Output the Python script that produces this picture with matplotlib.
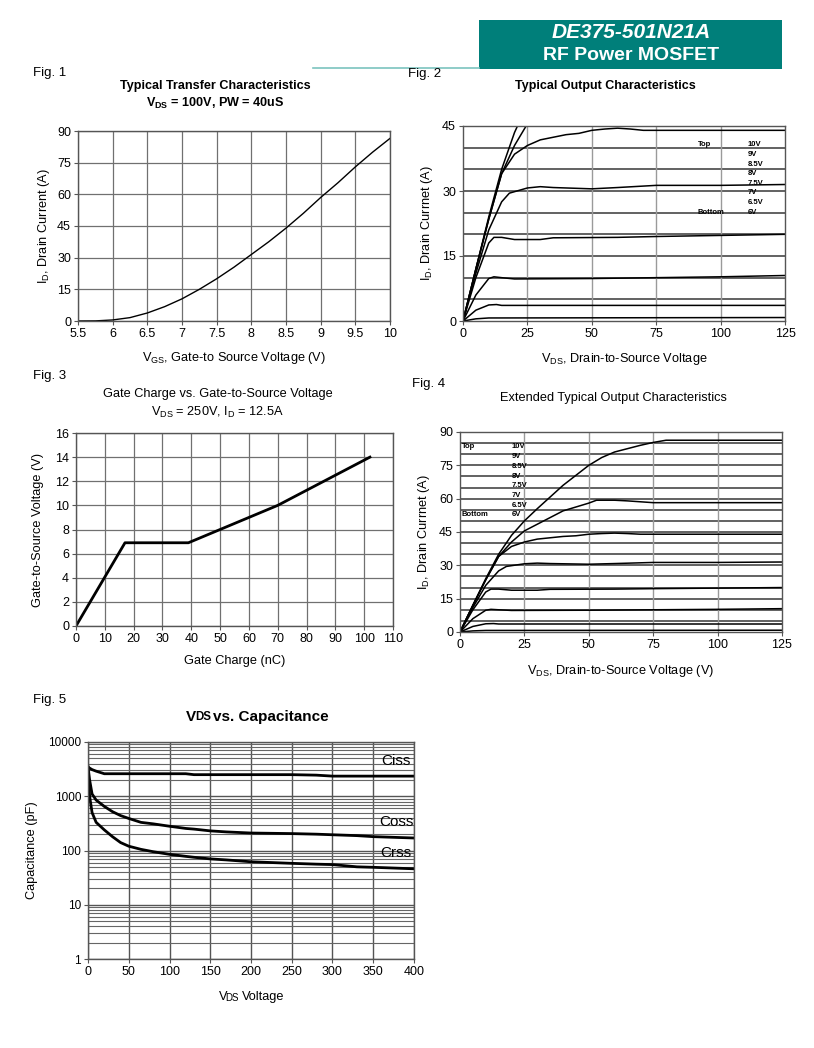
import matplotlib
matplotlib.use('Agg')
import matplotlib.pyplot as plt
from matplotlib.patches import Rectangle
from matplotlib.lines import Line2D
from matplotlib.ticker import FuncFormatter, LogLocator, NullFormatter

plt.rcParams['font.family'] = ['Liberation Sans', 'DejaVu Sans']
plt.rcParams['mathtext.fontset'] = 'custom'
plt.rcParams['mathtext.rm'] = 'Liberation Sans'
plt.rcParams['mathtext.bf'] = 'Liberation Sans:bold'
plt.rcParams['font.size'] = 8.5

# Fig 1: transfer characteristics
vgs = [5.5, 5.75, 6.0, 6.25, 6.5, 6.75, 7.0, 7.25, 7.5, 7.75, 8.0, 8.25, 8.5, 8.75, 9.0, 9.25, 9.5, 9.75, 10.0]
id_transfer = [0, 0.05, 0.5, 1.6, 3.8, 6.8, 10.5, 15, 20, 25.5, 31.5, 37.5, 44, 51, 58.5, 65.5, 73, 80, 86.5]

# Fig 2 / Fig 4: output characteristics, one curve per gate voltage
vds_10v = [0, 5, 10, 15, 20, 25, 30, 40, 50, 55, 60, 65, 70, 75, 80, 125]
id_10v = [0, 12, 24, 35, 43.5, 50, 55.5, 66, 75, 78.5, 81, 82.5, 84, 85.3, 86.3, 86.3]
vds_9v = [0, 5, 10, 15, 20, 25, 30, 40, 50, 53, 60, 65, 75, 125]
id_9v = [0, 12, 23.5, 34, 40.5, 45.5, 48.5, 54.5, 58, 59.3, 59.3, 59, 58.2, 58.2]
vds_85v = [0, 5, 10, 15, 20, 25, 30, 40, 45, 50, 55, 60, 65, 70, 125]
id_85v = [0, 12, 23.5, 34, 38.5, 40.5, 41.8, 43, 43.3, 44, 44.3, 44.5, 44.3, 44, 44]
vds_8v = [0, 5, 10, 15, 18, 25, 30, 35, 50, 60, 75, 100, 125]
id_8v = [0, 11, 21, 27.5, 29.5, 30.7, 31, 30.8, 30.5, 30.8, 31.3, 31.3, 31.5]
vds_75v = [0, 5, 10, 12, 15, 20, 30, 35, 60, 75, 125]
id_75v = [0, 10, 18, 19.3, 19.3, 18.8, 18.8, 19.2, 19.3, 19.5, 20]
vds_7v = [0, 5, 10, 12, 15, 20, 50, 75, 100, 125]
id_7v = [0, 6, 9.8, 10.2, 10, 9.7, 9.8, 10, 10.2, 10.5]
vds_65v = [0, 5, 10, 13, 15, 125]
id_65v = [0, 2.5, 3.7, 3.8, 3.6, 3.6]
vds_6v = [0, 5, 10, 125]
id_6v = [0, 0.5, 0.7, 0.8]
gate_labels = ['10V', '9V', '8.5V', '8V', '7.5V', '7V', '6.5V', '6V']

# Fig 3: gate charge
qg = [0, 17, 39, 70, 102]
vgs_qg = [0, 6.9, 6.9, 10, 14]

# Fig 5: capacitance vs VDS
vds_cap = [0, 2, 5, 10, 20, 30, 40, 50, 65, 80, 100, 120, 130, 150, 170, 200, 250, 280, 300, 330, 350, 400]
ciss = [3500, 3300, 3100, 2900, 2600, 2600, 2600, 2600, 2600, 2600, 2600, 2600, 2500, 2500, 2500, 2500, 2500, 2450, 2350, 2350, 2350, 2350]
coss = [3500, 2000, 1100, 850, 650, 520, 440, 390, 330, 310, 280, 255, 248, 230, 220, 210, 205, 200, 195, 188, 180, 170]
crss = [3000, 1000, 500, 330, 240, 180, 140, 120, 105, 95, 85, 78, 75, 70, 67, 62, 58, 56, 55, 50, 49, 46]

W, H = 814, 1048
fig = plt.figure(figsize=(W / 100, H / 100), dpi=100)


def ax_at(l, t, r, b):
    return fig.add_axes([l / W, 1 - b / H, (r - l) / W, (b - t) / H])


def txt(x, y, s, **kw):
    kw.setdefault('ha', 'center')
    kw.setdefault('va', 'center')
    fig.text(x / W, 1 - y / H, s, **kw)


def style(ax):
    for sp in ax.spines.values():
        sp.set_color('#555555')
        sp.set_linewidth(1.0)
    ax.tick_params(direction='out', length=3, width=0.8, color='#555555', labelsize=9, pad=2)
    ax.set_axisbelow(True)


# header
fig.patches.append(Rectangle((479 / W, 1 - 69 / H), 303 / W, 49 / H, transform=fig.transFigure,
                             facecolor='#007F7A', edgecolor='none'))
fig.lines.append(Line2D([313 / W, 479 / W], [1 - 68 / H, 1 - 68 / H], transform=fig.transFigure,
                        color='#7CC3BF', lw=1.2))
txt(631, 33, 'DE375-501N21A', color='white', fontsize=15, fontweight='bold', fontstyle='italic')
txt(631, 56, 'RF Power MOSFET', color='white', fontsize=14, fontweight='bold')

# Fig 1
txt(33, 73, 'Fig. 1', ha='left', fontsize=9.5)
txt(215, 86, 'Typical Transfer Characteristics', fontweight='bold', fontsize=9.1)
txt(215, 103, r'V$_{\mathbf{DS}}$ = 100V, PW = 40uS', fontweight='bold', fontsize=9.1)
ax1 = ax_at(78, 131, 390, 321)
style(ax1)
ax1.plot(vgs, id_transfer, color='black', lw=1.0)
ax1.set_xlim(5.5, 10)
ax1.set_ylim(0, 90)
ax1.set_xticks([5.5, 6, 6.5, 7, 7.5, 8, 8.5, 9, 9.5, 10])
ax1.set_xticklabels(['5.5', '6', '6.5', '7', '7.5', '8', '8.5', '9', '9.5', '10'])
ax1.set_yticks(range(0, 91, 15))
ax1.grid(True, color='#707070', lw=0.9)
ax1.set_xlabel(r'V$_{\mathrm{GS}}$, Gate-to Source Voltage (V)', fontsize=9.2, labelpad=7)
ax1.set_ylabel(r'I$_{\mathrm{D}}$, Drain Current (A)', fontsize=9.2, labelpad=4)

# Fig 2 and Fig 4 share the curve data
curves = [(vds_10v, id_10v), (vds_9v, id_9v), (vds_85v, id_85v), (vds_8v, id_8v),
          (vds_75v, id_75v), (vds_7v, id_7v), (vds_65v, id_65v), (vds_6v, id_6v)]


def output_plot(ax, ymax, yticks):
    style(ax)
    for x, y in curves:
        ax.plot(x, y, color='black', lw=1.1)
    ax.set_xlim(0, 125)
    ax.set_ylim(0, ymax)
    ax.set_xticks(range(0, 126, 25))
    ax.set_yticks(yticks)
    for yy in range(5, ymax, 5):
        ax.axhline(yy, color='#555555', lw=1.3, zorder=0)
    for xx in range(25, 125, 25):
        ax.axvline(xx, color='#9a9a9a', lw=1.0, zorder=0)


txt(408, 74, 'Fig. 2', ha='left', fontsize=9.5)
txt(605, 86, 'Typical Output Characteristics', fontweight='bold', fontsize=9)
ax2 = ax_at(463, 126, 785, 321)
output_plot(ax2, 45, range(0, 46, 15))
ax2.set_xlabel(r'V$_{\mathrm{DS}}$, Drain-to-Source Voltage', fontsize=9.2, labelpad=8)
ax2.set_ylabel(r'I$_{\mathrm{D}}$, Drain Currnet (A)', fontsize=9.2, labelpad=5)
txt(698, 145, 'Top', ha='left', fontsize=5.5, fontweight='bold')
txt(698, 212, 'Bottom', ha='left', fontsize=5.5, fontweight='bold')
for i, lab in enumerate(gate_labels):
    txt(748, 145 + i * 9.6, lab, ha='left', fontsize=5.5, fontweight='bold')

# Fig 3
txt(33, 376, 'Fig. 3', ha='left', fontsize=9.5)
txt(218, 394, 'Gate Charge vs. Gate-to-Source Voltage', fontsize=9.2)
txt(218, 412, r'V$_{\mathrm{DS}}$ = 250V, I$_{\mathrm{D}}$ = 12.5A', fontsize=9.2)
ax3 = ax_at(76, 433, 393, 626)
style(ax3)
ax3.plot(qg, vgs_qg, color='black', lw=2.0)
ax3.set_xlim(0, 110)
ax3.set_ylim(0, 16)
ax3.set_xticks(range(0, 111, 10))
ax3.set_yticks(range(0, 17, 2))
ax3.grid(True, color='#707070', lw=0.9)
ax3.set_xlabel('Gate Charge (nC)', fontsize=9.2, labelpad=7)
ax3.set_ylabel('Gate-to-Source Voltage (V)', fontsize=9.2, labelpad=8)

# Fig 4
txt(412, 384, 'Fig. 4', ha='left', fontsize=9.5)
txt(613, 398, 'Extended Typical Output Characteristics', fontsize=9.2)
ax4 = ax_at(460, 432, 782, 632)
output_plot(ax4, 90, range(0, 91, 15))
ax4.set_xlabel(r'V$_{\mathrm{DS}}$, Drain-to-Source Voltage (V)', fontsize=9.2, labelpad=9)
ax4.set_ylabel(r'I$_{\mathrm{D}}$, Drain Currnet (A)', fontsize=9.2, labelpad=5)
txt(462, 447, 'Top', ha='left', fontsize=5.5, fontweight='bold')
txt(462, 515, 'Bottom', ha='left', fontsize=5.5, fontweight='bold')
for i, lab in enumerate(gate_labels):
    txt(512, 447 + i * 9.7, lab, ha='left', fontsize=5.5, fontweight='bold')

# Fig 5
txt(33, 700, 'Fig. 5', ha='left', fontsize=9.5)
txt(186, 717, 'V', ha='left', fontsize=11, fontweight='bold')
txt(195.5, 717, 'DS', ha='left', fontsize=8.3, fontweight='bold')
txt(213, 717, 'vs. Capacitance', ha='left', fontsize=11, fontweight='bold')
ax5 = ax_at(88, 742, 414, 959)
style(ax5)
ax5.plot(vds_cap, ciss, color='black', lw=2.0)
ax5.plot(vds_cap, coss, color='black', lw=2.0)
ax5.plot(vds_cap, crss, color='black', lw=2.0)
ax5.set_yscale('log')
ax5.set_xlim(0, 400)
ax5.set_ylim(1, 10000)
ax5.set_xticks(range(0, 401, 50))
ax5.yaxis.set_major_locator(LogLocator(base=10))
ax5.yaxis.set_major_formatter(FuncFormatter(lambda v, _: f'{v:g}'))
ax5.yaxis.set_minor_locator(LogLocator(base=10, subs=range(2, 10)))
ax5.yaxis.set_minor_formatter(NullFormatter())
ax5.tick_params(axis='y', which='minor', length=0)
ax5.tick_params(axis='y', labelsize=8.5)
ax5.grid(True, which='major', color='#555555', lw=1.0)
ax5.grid(True, which='minor', axis='y', color='#666666', lw=0.8)
ax5.set_ylabel('Capacitance (pF)', fontsize=9.2, labelpad=7)
ax5.text(360, 3300, 'Ciss', fontsize=11, va='bottom', ha='left')
ax5.text(357, 250, 'Coss', fontsize=11, va='bottom', ha='left')
ax5.text(358, 67, 'Crss', fontsize=11, va='bottom', ha='left')
txt(219, 997, 'V', ha='left', fontsize=9.2)
txt(225.5, 998, 'DS', ha='left', fontsize=7)
txt(242, 997, 'Voltage', ha='left', fontsize=9.2)

fig.savefig('out.png', dpi=100, facecolor='white')
